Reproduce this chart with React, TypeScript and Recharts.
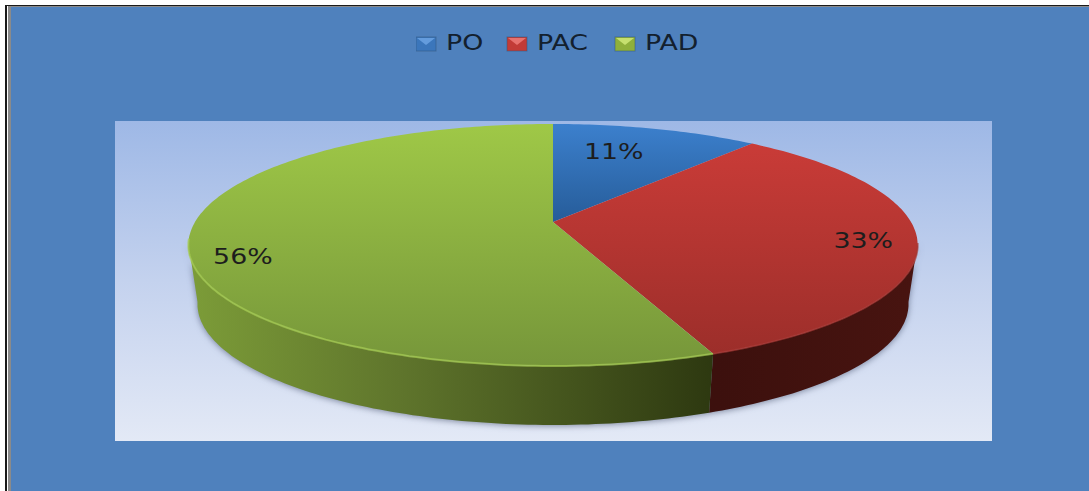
import { PieChart, Pie, Legend } from 'recharts'

const categories = ['PO', 'PAC', 'PAD']
const shares = [11, 33, 56]

const topFills = ['url(#topBlue)', 'url(#topRed)', 'url(#topGreen)']
const sideFills = ['#24527f', 'url(#sideRed)', 'url(#sideGreen)']
const rimColors = ['#3c80cd', '#a83733', '#a6cd52']
const swatchColors = ['#3b76bb', '#c23b37', '#8fb03a']
const swatchLights = ['#6fa6e6', '#f0807c', '#d3ec7c']
// where each percent label sits along its radius, plus a small vertical nudge
const labelRadius = [0.55, 0.855, 0.855]
const labelNudge = [-16, 2, 15]

const topData = categories.map((name, i) => ({ name, value: shares[i], fill: topFills[i], rim: rimColors[i] }))
const sideData = categories.map((name, i) => ({ name, value: shares[i], fill: sideFills[i] }))

// the pie is tilted away from the viewer, so the circle goes through a perspective projection
const TILT = 0.19
const FLATTEN = 0.3257
const DEPTH = 59
const BOTTOM_SCALE = 0.975
const TEXT_STRETCH = 1.22
const FONT_SIZE = 22
// the legend takes 30px off the top of the plot area, so this lands on y=222
const PIE_CY = 192

function project(deg: number, r: number, cx: number, cy: number, radius: number) {
  const a = (deg * Math.PI) / 180
  const w = 1 + TILT * r * Math.cos(a)
  return {
    x: cx + (radius * r * Math.sin(a)) / w,
    y: cy - (radius * FLATTEN * r * Math.cos(a)) / w,
  }
}

function arcPoints(from: number, to: number, cx: number, cy: number, radius: number) {
  const pts = []
  const steps = Math.max(2, Math.ceil(Math.abs(to - from)))
  for (let i = 0; i <= steps; i++) {
    pts.push(project(from + ((to - from) * i) / steps, 1, cx, cy, radius))
  }
  return pts
}

const toPath = (pts: { x: number; y: number }[]) =>
  pts.map((p, i) => `${i ? 'L' : 'M'}${p.x.toFixed(1)} ${p.y.toFixed(1)}`).join(' ')

function TopSlice(props: any) {
  const { cx, cy, outerRadius, startAngle, endAngle, fill, payload } = props
  const from = 90 - startAngle
  const to = 90 - endAngle
  const pts = arcPoints(from, to, cx, cy, outerRadius)
  const rim = payload?.rim ?? props.rim
  // the light rim only runs along the front edge
  const rimFrom = Math.max(from, 100)
  const rimTo = Math.min(to, 262)
  return (
    <g>
      <path d={`M${cx} ${cy} ${toPath(pts).replace('M', 'L')} Z`} fill={fill} />
      {rimTo > rimFrom && (
        <path
          d={toPath(arcPoints(rimFrom, rimTo, cx, cy, outerRadius))}
          fill="none"
          stroke={rim}
          strokeWidth={2}
          strokeOpacity={0.7}
          style={{ filter: 'blur(0.6px)' }}
        />
      )}
    </g>
  )
}

function SideSlice(props: any) {
  const { cx, cy, outerRadius, startAngle, endAngle, fill } = props
  // only the part of the wall facing the viewer shows
  const from = Math.max(90 - startAngle, 100)
  const to = Math.min(90 - endAngle, 260)
  if (to <= from) return <g />
  const upper = arcPoints(from, to, cx, cy, outerRadius)
  const lower = upper
    .map(p => ({ x: cx + (p.x - cx) * BOTTOM_SCALE, y: p.y + DEPTH }))
    .reverse()
  return <path d={`${toPath(upper)} ${toPath(lower).replace('M', 'L')} Z`} fill={fill} />
}

function renderLabel(props: any) {
  const { cx, cy, outerRadius, midAngle, percent, index } = props
  const p = project(90 - midAngle, labelRadius[index], cx, cy, outerRadius)
  return (
    <text
      transform={`translate(${p.x},${p.y + labelNudge[index]}) scale(${TEXT_STRETCH},1)`}
      textAnchor="middle"
      dominantBaseline="central"
      fontFamily="'DejaVu Sans', sans-serif"
      fontSize={FONT_SIZE}
      fill="#1d1d1d"
    >
      {Math.round(percent * 100)}%
    </text>
  )
}

function LegendRow() {
  const itemX = [0, 91, 199]
  return (
    <svg width={300} height={30} style={{ display: 'block' }}>
      {categories.map((name, i) => (
        <g key={name} transform={`translate(${itemX[i]},0)`}>
          <rect x={0} y={9} width={20} height={14} fill={swatchColors[i]} stroke="#2f5378" strokeOpacity={0.5} />
          <path d="M1 10 L19 10 L10 17 Z" fill={swatchLights[i]} fillOpacity={0.8} />
          <text
            transform={`translate(30,22) scale(${TEXT_STRETCH},1)`}
            fontFamily="'DejaVu Sans', sans-serif"
            fontSize={FONT_SIZE}
            fill="#13202e"
          >
            {name}
          </text>
        </g>
      ))}
    </svg>
  )
}

export default function App() {
  return (
    <div style={{ position: 'fixed', left: 0, top: 0, width: 1089, height: 491, background: '#ffffff', overflow: 'hidden' }}>
      <style>{`.pie-side { filter: drop-shadow(0 1px 3px rgba(50, 60, 90, 0.55)); }`}</style>
      <div style={{ position: 'absolute', left: 5, top: 5, right: 0, bottom: 0, background: '#ffffff', borderLeft: '2px solid #1a1a1a', borderTop: '1px solid #1a1a1a' }} />
      <div style={{ position: 'absolute', left: 8, top: 6, right: 0, bottom: 0, background: '#8a8a8a' }} />
      <div style={{ position: 'absolute', left: 11, top: 7, right: 0, bottom: 0, background: '#4f81bd' }} />
      <div
        style={{
          position: 'absolute',
          left: 115,
          top: 121,
          width: 877,
          height: 320,
          background: 'linear-gradient(180deg, #9eb8e6 0%, #c4d2ee 50%, #e3e9f6 100%)',
        }}
      />
      <div style={{ position: 'absolute', left: 0, top: 0 }}>
        <PieChart width={1089} height={491} margin={{ top: 0, right: 0, bottom: 0, left: 0 }}>
          <defs>
            <linearGradient id="topBlue" gradientUnits="userSpaceOnUse" x1="0" y1="124" x2="0" y2="222">
              <stop offset="0%" stopColor="#3c80cd" />
              <stop offset="100%" stopColor="#265c99" />
            </linearGradient>
            <linearGradient id="topRed" gradientUnits="userSpaceOnUse" x1="0" y1="135" x2="0" y2="355">
              <stop offset="0%" stopColor="#cb3c38" />
              <stop offset="100%" stopColor="#9c2e2a" />
            </linearGradient>
            <linearGradient id="topGreen" gradientUnits="userSpaceOnUse" x1="0" y1="124" x2="0" y2="366">
              <stop offset="0%" stopColor="#9fc847" />
              <stop offset="100%" stopColor="#76963a" />
            </linearGradient>
            <linearGradient id="sideGreen" gradientUnits="userSpaceOnUse" x1="190" y1="0" x2="715" y2="0">
              <stop offset="0%" stopColor="#7c9c38" />
              <stop offset="40%" stopColor="#5f752c" />
              <stop offset="100%" stopColor="#2d3810" />
            </linearGradient>
            <linearGradient id="sideRed" gradientUnits="userSpaceOnUse" x1="715" y1="0" x2="918" y2="0">
              <stop offset="0%" stopColor="#3c100d" />
              <stop offset="100%" stopColor="#481410" />
            </linearGradient>
          </defs>
          <Legend
            verticalAlign="top"
            content={() => <LegendRow />}
            wrapperStyle={{ position: 'absolute', left: 416, top: 28, width: 300 }}
          />
          <Pie
            className="pie-side"
            data={sideData}
            dataKey="value"
            nameKey="name"
            cx={553}
            cy={PIE_CY}
            outerRadius={358}
            startAngle={90}
            endAngle={-270}
            stroke="none"
            legendType="none"
            shape={SideSlice}
            isAnimationActive={false}
          />
          <Pie
            data={topData}
            dataKey="value"
            nameKey="name"
            cx={553}
            cy={PIE_CY}
            outerRadius={358}
            startAngle={90}
            endAngle={-270}
            stroke="none"
            shape={TopSlice}
            label={renderLabel}
            labelLine={false}
            isAnimationActive={false}
          />
        </PieChart>
      </div>
    </div>
  )
}
